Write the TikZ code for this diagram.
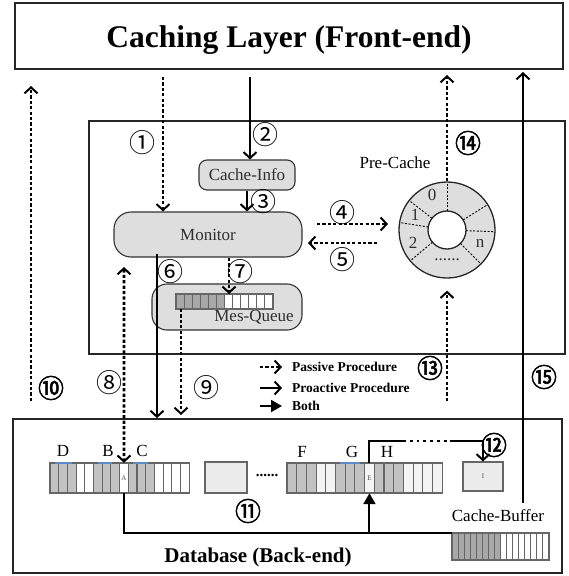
\documentclass[tikz,border=0pt]{standalone}
\usepackage{fontspec}
\setmainfont{Liberation Serif}
\newfontfamily\circfont{Noto Sans CJK JP}
\newfontfamily\circboldfont[FakeBold=2]{Noto Sans CJK JP}
\usetikzlibrary{arrows.meta,calc}
\definecolor{boxgrey}{HTML}{DEDEDE}
\definecolor{cellgrey}{HTML}{C2C2C2}
\definecolor{edgegrey}{HTML}{666666}
\definecolor{lightbox}{HTML}{ECECEC}
\definecolor{txtgrey}{HTML}{2E2E2E}
\definecolor{offwhite}{HTML}{F4F4F4}
\definecolor{bufgrey}{HTML}{A8A8A8}
\definecolor{markblue}{HTML}{5B8BC8}
\begin{document}
\begin{tikzpicture}[x=1pt,y=-1pt,
  frame/.style={draw=black!85,line width=1.8pt,inner sep=0pt},
  rbox/.style={draw=black!80,line width=1.1pt,fill=boxgrey,rounded corners=#1,inner sep=0pt},
  boxtext/.style={font=\fontsize{17}{17}\selectfont,text=txtgrey,inner sep=0pt},
  barb/.tip={Straight Barb[length=6pt,width=13pt,line width=2pt]},
  bothtip/.tip={Triangle[length=11pt,width=12pt]},
  solidarr/.style={line width=2pt,-barb},
  dotline/.style={line width=2.9pt,dash pattern=on 3.2pt off 2.2pt},
  dotarr/.style={dotline,-barb},
  num/.style={font=\circfont\fontsize{26}{26}\selectfont,inner sep=0pt},
  bnum/.style={font=\circboldfont\fontsize{26}{26}\selectfont,inner sep=0pt},
  cell/.style={draw=edgegrey,line width=1.1pt},
  lbl/.style={font=\fontsize{17}{17}\selectfont,inner sep=0pt},
  tinylbl/.style={font=\fontsize{7}{7}\selectfont,text=black!70,inner sep=0pt},
  legend/.style={font=\bfseries\fontsize{13.5}{14}\selectfont,anchor=west,inner sep=0pt},
  anchorbox/.style={inner sep=0pt,outer sep=0pt,anchor=north west},
]
\useasboundingbox (0,0) rectangle (569,576);

% ---------- frames ----------
\node[frame,minimum width=548pt,minimum height=66pt] (front) at (289,36) {};
\node[font=\bfseries\fontsize{31.5}{31.5}\selectfont,anchor=base,inner sep=0pt] (fronttitle) at (289,47.5) {Caching Layer (Front-end)};
\node[frame,minimum width=476pt,minimum height=233pt] (middle) at (327,237.5) {};
\node[frame,minimum width=549pt,minimum height=154pt] (db) at (287.5,496) {};
\node[font=\bfseries\fontsize{21}{21}\selectfont,inner sep=0pt] (dbtitle) at (258,557) {Database (Back-end)};

% ---------- middle layer ----------
\node[rbox=8pt,minimum width=96pt,minimum height=30pt,boxtext] (cacheinfo) at (247,175) {Cache-Info};
\node[rbox=17pt,minimum width=188pt,minimum height=45pt,boxtext] (monitor) at (208,234.5) {Monitor};
\node[rbox=15pt,minimum width=150pt,minimum height=46pt] (mesqueue) at (227,307) {};
\node[boxtext] (mqtext) at (254,317) {Mes-Queue};
\node[anchorbox,minimum width=97pt,minimum height=15pt] (mqarr) at (176,294) {};
\foreach \i in {0,...,11}{
  \ifnum\i<6 \def\cc{bufgrey}\else\def\cc{white}\fi
  \draw[cell,fill=\cc] (176+\i*8.083,294) rectangle ++(8.083,15);
}

% Pre-Cache ring
\node[circle,draw=black!85,line width=1.3pt,fill=boxgrey,minimum size=96pt,inner sep=0pt] (precache) at (447,230) {};
\node[circle,draw=black!85,line width=1.3pt,fill=white,minimum size=38pt,inner sep=0pt] (hole) at (447,230) {};
\foreach \a in {90,32,-2,-45,-140,171,142}
  \draw[line width=0.9pt,dash pattern=on 2pt off 1.6pt] ($(hole.center)+(\a:19pt)$) -- ($(hole.center)+(\a:47pt)$);
\node[lbl,text=txtgrey] (seg0) at (432,195) {0};
\node[lbl,text=txtgrey] (seg1) at (415,215) {1};
\node[lbl,text=txtgrey] (seg2) at (413,243) {2};
\node[lbl,text=txtgrey] (segn) at (480,243) {n};
\node[lbl,text=txtgrey] (segdots) at (447,260) {......};
\node[lbl] (pclabel) at (395,163) {Pre-Cache};

% ---------- database layer ----------
\node[anchorbox,minimum width=139.2pt,minimum height=30pt] (arr1) at (50,463) {};
\foreach \i/\c in {0/cellgrey,1/cellgrey,2/cellgrey,3/white,4/white,5/cellgrey,6/cellgrey,7/cellgrey,8/white,9/cellgrey,10/cellgrey,11/cellgrey,12/white,13/white,14/white,15/white}
  \draw[cell,fill=\c] (50+\i*8.7,463) rectangle ++(8.7,30);
\node[inner sep=0pt,minimum width=8.7pt,minimum height=30pt] (cellA) at (50+8.5*8.7,478) {};
\node[tinylbl] (txtA) at (cellA.center) {A};
\draw[markblue,line width=1.1pt] (55,463) -- (72,463) (98,463) -- (112,463) (133,463) -- (148,463);

\node[draw=edgegrey,fill=lightbox,line width=1.1pt,minimum width=42pt,minimum height=31pt,inner sep=0pt] (midbox) at (226,477.5) {};
\node[font=\bfseries\fontsize{15}{15}\selectfont,inner sep=0pt] (middots) at (267,475) {......};

\node[anchorbox,minimum width=155.2pt,minimum height=30pt] (arr2) at (287,463) {};
\foreach \i/\c in {0/cellgrey,1/cellgrey,2/cellgrey,3/offwhite,4/offwhite,5/cellgrey,6/cellgrey,7/cellgrey,8/offwhite,9/cellgrey,10/cellgrey,11/cellgrey,12/offwhite,13/offwhite,14/offwhite,15/offwhite}
  \draw[cell,fill=\c] (287+\i*9.7,463) rectangle ++(9.7,30);
\node[inner sep=0pt,minimum width=9.7pt,minimum height=30pt] (cellE) at (287+8.5*9.7,478) {};
\node[tinylbl] (txtE) at (cellE.center) {E};
\draw[markblue,line width=1.1pt] (340,463) -- (360,463);

\node[draw=edgegrey,fill=lightbox,line width=1.1pt,minimum width=40pt,minimum height=29pt,inner sep=0pt] (ibox) at (483,476.5) {};
\node[tinylbl] (txtI) at (ibox.center) {I};

\node[lbl] (lD) at (63,451) {D};
\node[lbl] (lB) at (108,451) {B};
\node[lbl] (lC) at (142,451) {C};
\node[lbl] (lF) at (302,452) {F};
\node[lbl] (lG) at (352,452) {G};
\node[lbl] (lH) at (387,452) {H};

\node[lbl] (cblabel) at (498,516) {Cache-Buffer};
\node[anchorbox,minimum width=97pt,minimum height=27pt] (buffer) at (452,533) {};
\foreach \i in {0,...,15}{
  \ifnum\i<8 \def\cc{bufgrey}\else\def\cc{white}\fi
  \draw[cell,fill=\cc] (452+\i*6.0625,533) rectangle ++(6.0625,27);
}

% ---------- connectors ----------
\coordinate (c10s) at (31,401); \coordinate (c10e) at (31,86);
\draw[dotarr] (c10s) -- (c10e);
\coordinate (c1s) at (163,77);
\draw[dotarr] (c1s) -- (c1s |- monitor.north);
\coordinate (c2s) at (250,77);
\draw[solidarr] (c2s) -- (c2s |- cacheinfo.north);
\draw[solidarr] (cacheinfo.south) -- (cacheinfo.south |- monitor.north);
\coordinate (c4s) at (317,224); \coordinate (c4e) at (388,224);
\draw[dotarr] (c4s) -- (c4e);
\coordinate (c5s) at (377,243); \coordinate (c5e) at (308,243);
\draw[dotarr] (c5s) -- (c5e);
\coordinate (c6s) at (157,254);
\draw[solidarr] (c6s) -- (c6s |- db.north);
\coordinate (c7s) at (229,258);
\draw[dotarr] (c7s) -- (c7s |- mqarr.north);
\coordinate (c8s) at (124,267);
\draw[dotline,barb-barb] (c8s) -- (cellA.north);
\coordinate (c9s) at (181,309); \coordinate (c9e) at (181,415);
\draw[dotarr] (c9s) -- (c9e);
\coordinate (c13s) at (447,401);
\draw[dotarr] (c13s) -- ($(precache.south)+(0,12)$);
\coordinate (c14e) at (447,75);
\draw[dotarr] (precache.north) -- (c14e);
\coordinate (c15s) at (523,503); \coordinate (c15e) at (523,72);
\draw[solidarr] (c15s) -- (c15e);

\draw[line width=2pt] (cellA.south) |- (buffer.north west);
\draw[line width=2pt,-bothtip] (cellE.south |- buffer.north west) -- (cellE.south);
\coordinate (c12a) at (403,441); \coordinate (c12b) at (450,441);
\draw[line width=2pt] (cellE.north) |- (c12a);
\draw[line width=2.8pt,dash pattern=on 2.8pt off 4pt] (c12a) -- (c12b);
\draw[solidarr] (c12b) -| (ibox.north);

% ---------- legend ----------
\coordinate (lg1s) at (260,367); \coordinate (lg1e) at (282,367);
\draw[dotarr] (lg1s) -- (lg1e);
\node[legend] (lgt1) at (292,367) {Passive Procedure};
\coordinate (lg2s) at (260,388); \coordinate (lg2e) at (282,388);
\draw[solidarr] (lg2s) -- (lg2e);
\node[legend] (lgt2) at (292,388) {Proactive Procedure};
\coordinate (lg3s) at (260,406); \coordinate (lg3e) at (282,406);
\draw[line width=2pt,-bothtip] (lg3s) -- (lg3e);
\node[legend] (lgt3) at (292,406) {Both};

% ---------- step numbers ----------
\node[num] (n1) at (142,143) {①};
\node[num] (n2) at (265,135) {②};
\node[num] (n3) at (263,202) {③};
\node[num] (n4) at (342,213) {④};
\node[num] (n5) at (342,260) {⑤};
\node[num] (n6) at (170,272) {⑥};
\node[num] (n7) at (240,272) {⑦};
\node[num] (n8) at (109,383) {⑧};
\node[num] (n9) at (206,388) {⑨};
\node[bnum] (n10) at (51,388) {⑩};
\node[bnum] (n11) at (248,511) {⑪};
\node[bnum] (n12) at (494,445) {⑫};
\node[bnum] (n13) at (430,368) {⑬};
\node[bnum] (n14) at (468,143) {⑭};
\node[bnum] (n15) at (544,377) {⑮};
\end{tikzpicture}
\end{document}
